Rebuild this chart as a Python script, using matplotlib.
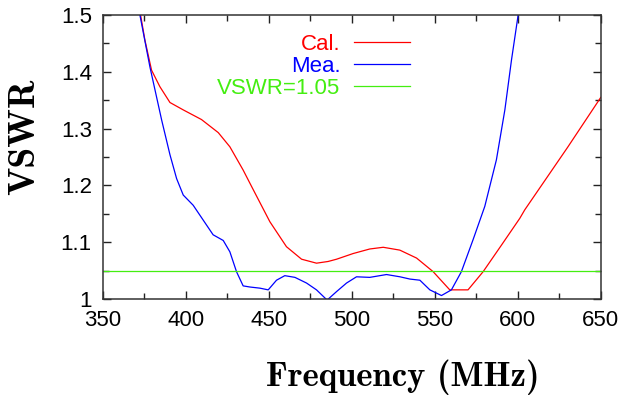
import matplotlib
matplotlib.use("Agg")
import matplotlib.pyplot as plt
from matplotlib.ticker import MultipleLocator, FormatStrFormatter

# Cal. curve
freq_cal = [372.7, 375.3, 379.3, 384.3, 390.4, 398.4, 409.4, 419.5, 426.5, 434.5,
            439.6, 450.6, 460.6, 469.7, 478.7, 485.7, 490.8, 500.8, 510.8, 518.9,
            528.9, 539, 549, 559, 570, 579.1, 590.2, 601.2, 604.2, 630, 650]
vswr_cal = [1.5, 1.456, 1.403, 1.374, 1.346, 1.333, 1.316, 1.293, 1.268, 1.227,
            1.198, 1.136, 1.092, 1.070, 1.063, 1.066, 1.070, 1.080, 1.088, 1.091,
            1.086, 1.072, 1.048, 1.016, 1.016, 1.048, 1.095, 1.142, 1.157, 1.267, 1.355]

# Mea. curve
freq_mea = [372.3, 378.3, 385.4, 390.4, 394.4, 398.4, 404.4, 410.4, 416.4, 422.5,
            426.5, 430.5, 434.5, 438.6, 444.6, 449.6, 454.6, 459.6, 465.7, 472.7,
            478.7, 485.1, 490.8, 496.8, 502.8, 510.8, 520.9, 529, 535, 541, 547,
            554, 560, 566, 573, 580.1, 587.1, 592.2, 596.2, 600.2]
vswr_mea = [1.5, 1.409, 1.315, 1.254, 1.212, 1.183, 1.165, 1.139, 1.113, 1.103,
            1.083, 1.048, 1.023, 1.021, 1.019, 1.016, 1.033, 1.041, 1.038, 1.028,
            1.016, 0.998, 1.013, 1.028, 1.039, 1.038, 1.043, 1.039, 1.035, 1.033, 1.016,
            1.006, 1.016, 1.048, 1.104, 1.163, 1.245, 1.333, 1.421, 1.5]

vswr_ref = 1.05
x_lim = (350, 650)
y_lim = (1.0, 1.5)

fig = plt.figure(figsize=(6.2, 3.97), dpi=100)
ax = fig.add_axes([0.166, 0.247, 0.803, 0.715])

ax.plot(freq_cal, vswr_cal, color="#ff0000", lw=0.9, label="Cal.")
ax.plot(freq_mea, vswr_mea, color="#0000ff", lw=0.9, label="Mea.")
ax.axhline(vswr_ref, color="#44ee11", lw=0.9, label="VSWR=1.05")

ax.set_xlim(*x_lim)
ax.set_ylim(*y_lim)
ax.xaxis.set_major_locator(MultipleLocator(50))
ax.xaxis.set_minor_locator(MultipleLocator(25))
ax.yaxis.set_major_locator(MultipleLocator(0.1))
ax.yaxis.set_minor_locator(MultipleLocator(0.05))
ax.yaxis.set_major_formatter(FormatStrFormatter("%g"))
ax.tick_params(which="both", direction="in", top=True, right=True,
               labelsize=16, pad=8, width=1, color="#222222")
ax.tick_params(which="major", length=6)
ax.tick_params(which="minor", length=4)
for lbl in ax.get_xticklabels() + ax.get_yticklabels():
    lbl.set_family(["Liberation Sans"])
for s in ax.spines.values():
    s.set_linewidth(1.1)
    s.set_color("#333333")

ax.set_xlabel("Frequency (MHz)", family="cmb10", fontsize=25)
ax.set_ylabel("VSWR", family="cmb10", fontsize=27)
ax.xaxis.set_label_coords(0.602, -0.215)
ax.yaxis.set_label_coords(-0.124, 0.57)

leg = ax.legend(loc="upper right", bbox_to_anchor=(0.64, 0.974), frameon=False,
                markerfirst=False, labelcolor="linecolor", borderpad=0,
                handlelength=2.55, handletextpad=0.6, labelspacing=0.05,
                prop={"family": "Liberation Sans", "size": 16})

fig.savefig("out.png", dpi=100)
